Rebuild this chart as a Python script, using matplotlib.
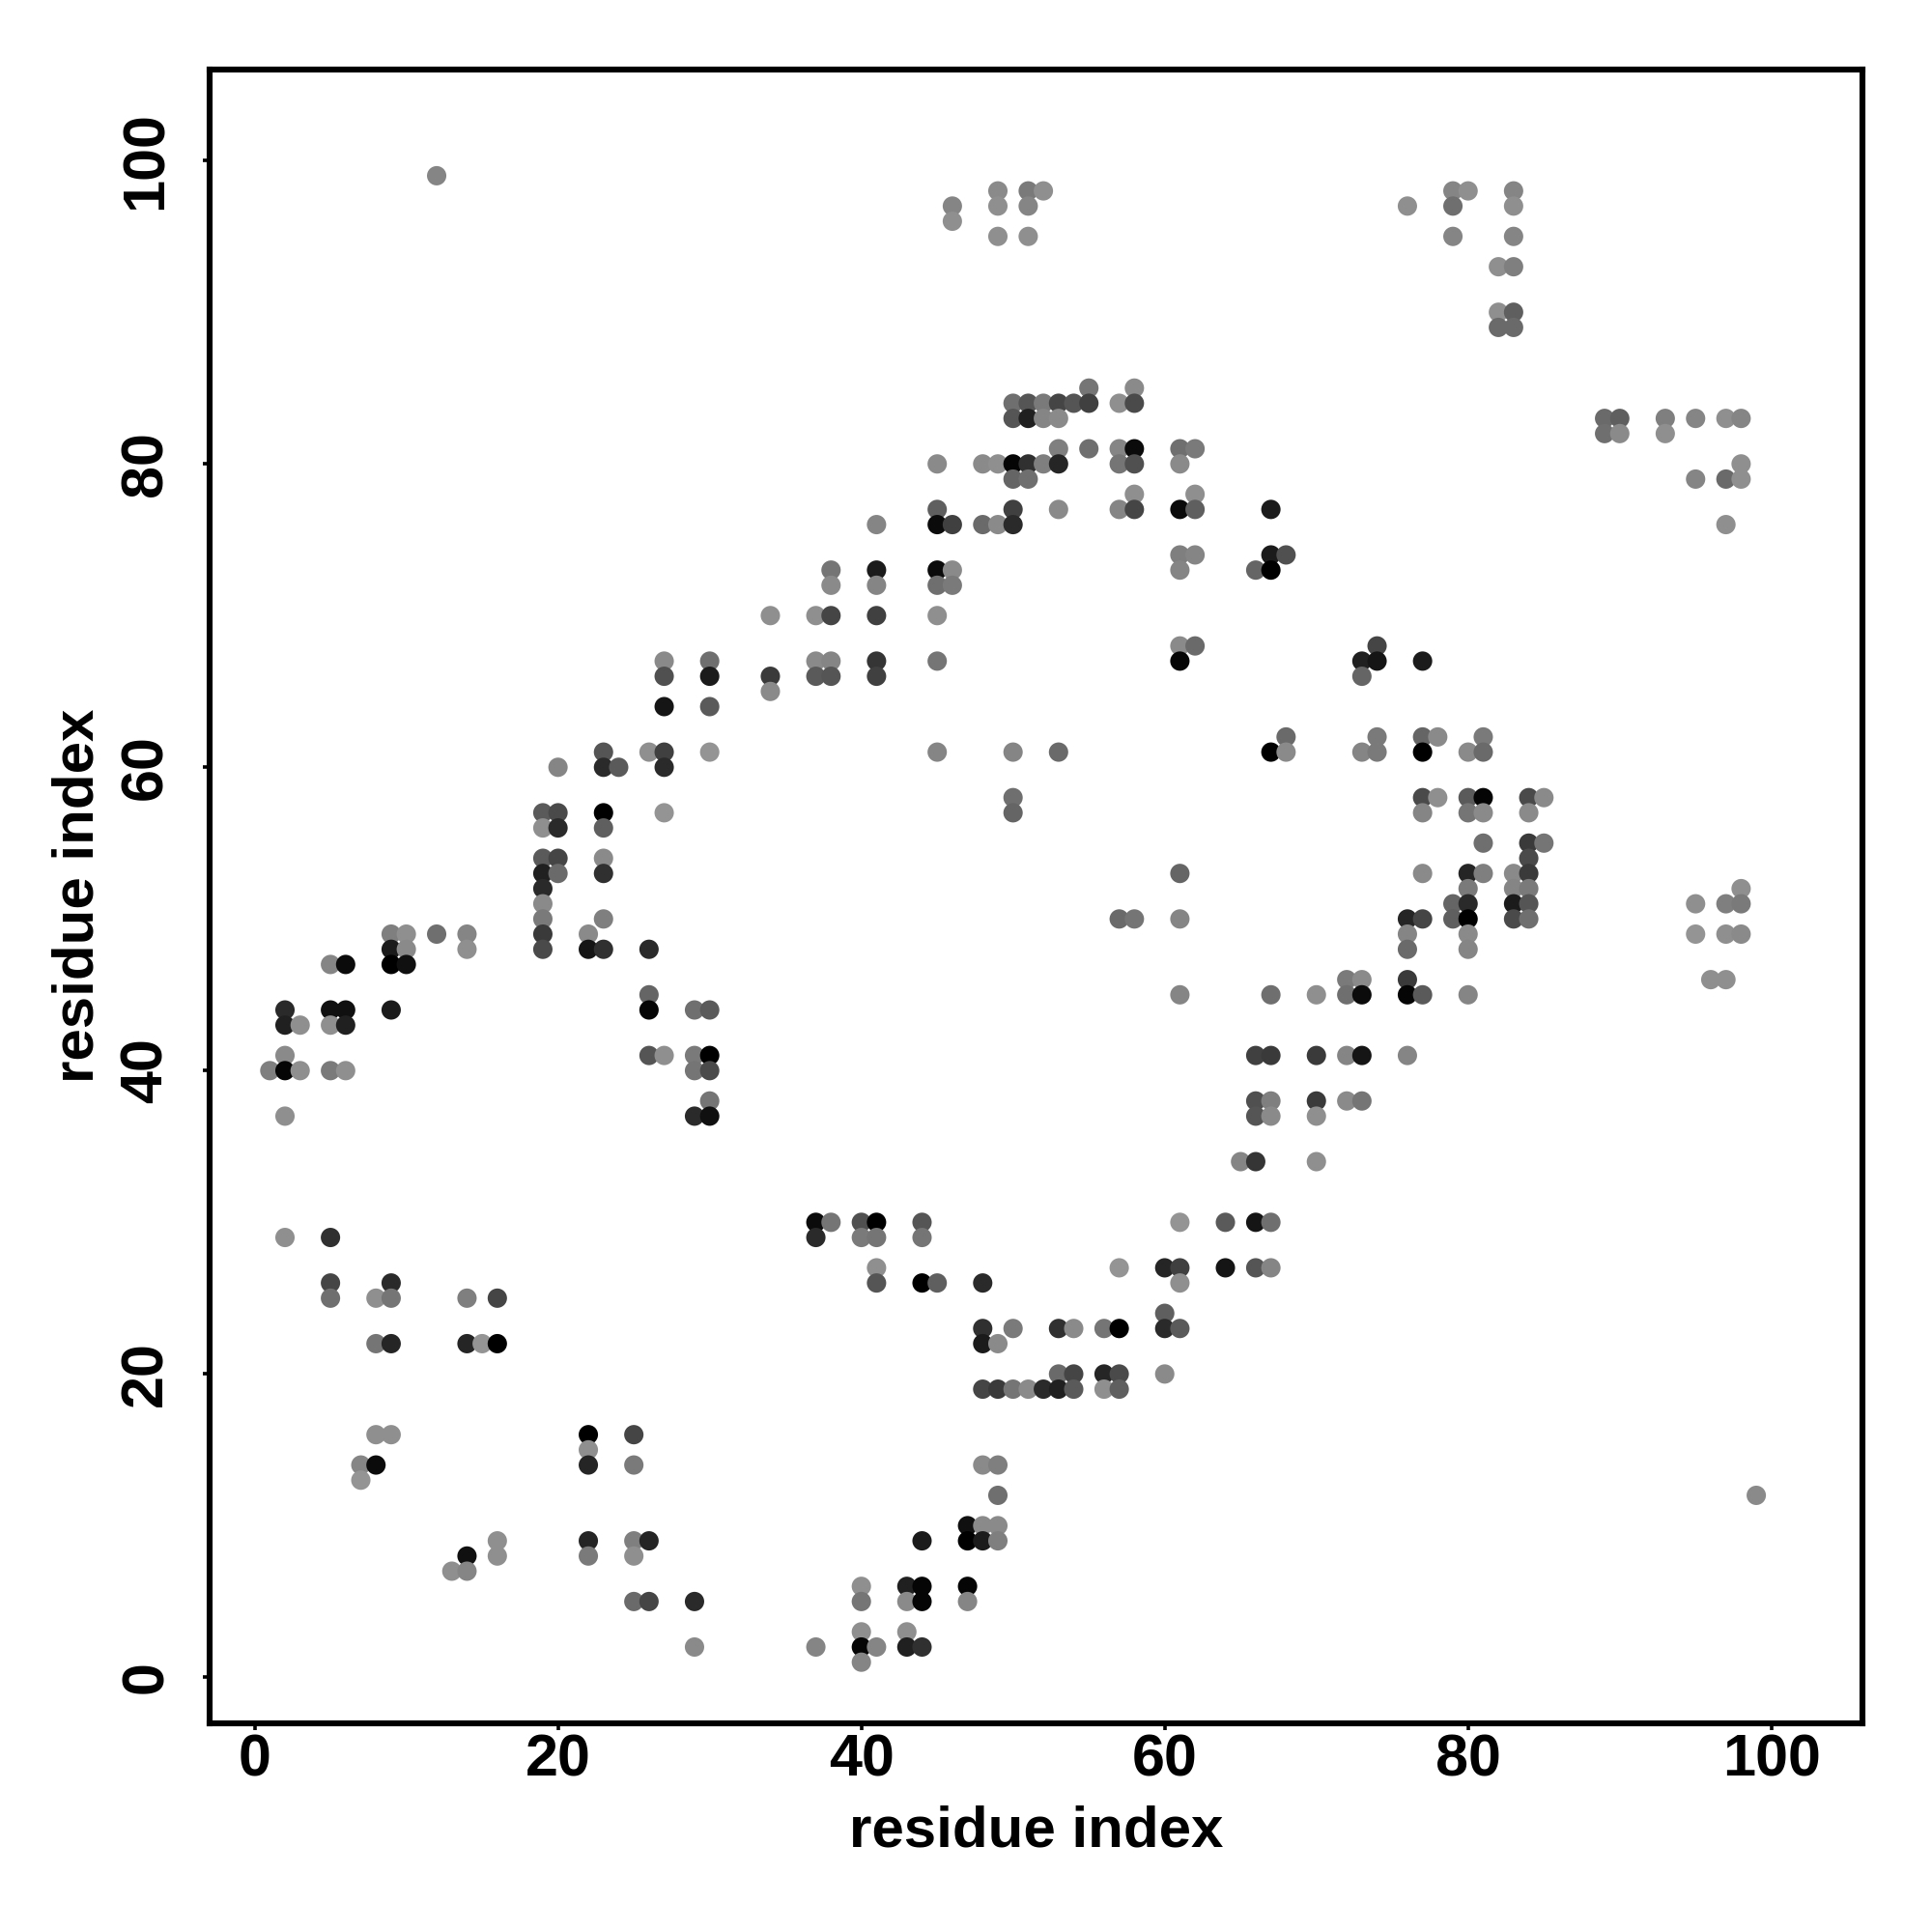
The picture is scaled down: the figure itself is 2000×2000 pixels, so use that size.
import matplotlib
matplotlib.use("Agg")
import matplotlib.pyplot as plt

plt.rcParams['font.family'] = ['Liberation Sans', 'DejaVu Sans']

# residue pairs, one line per y value, gray is the 0-255 level of the dot
res_x = [
    12,
    49, 51, 52, 79, 80, 83,
    46, 49, 51, 76, 79, 83,
    46,
    49, 51, 79, 83,
    82, 83,
    82, 83,
    82, 83,
    55, 58,
    50, 51, 52, 53, 54, 55, 57, 58,
    50, 51, 52, 53, 89, 90, 93, 95, 97, 98,
    89, 90, 93,
    53, 55, 57, 58, 61, 62,
    45, 48, 49, 50, 51, 52, 53, 57, 58, 61, 98,
    50, 51, 95, 97, 98,
    58, 62,
    45, 50, 53, 57, 58, 61, 62, 67,
    41, 45, 46, 48, 49, 50, 97,
    61, 62, 67, 68,
    38, 41, 45, 46, 61, 66, 67,
    38, 41, 45, 46,
    34, 37, 38, 41, 45,
    61, 62, 74,
    27, 30, 37, 38, 41, 45, 61, 73, 74, 77,
    27, 30, 34, 37, 38, 41, 73,
    34,
    27, 30,
    68, 74, 77, 78, 81,
    23, 26, 27, 30, 45, 50, 53, 67, 68, 73, 74, 77, 80, 81,
    20, 23, 24, 27,
    50, 77, 78, 80, 81, 84, 85,
    19, 20, 23, 27, 50, 77, 80, 81, 84,
    19, 20, 23,
    81, 84, 85,
    19, 20, 23, 84,
    19, 20, 23, 61, 77, 80, 81, 83, 84,
    19, 80, 83, 84, 98,
    19, 79, 80, 83, 84, 95, 97, 98,
    19, 23, 57, 58, 61, 76, 77, 79, 80, 83, 84,
    9, 10, 12, 14, 19, 22, 76, 80, 95, 97, 98,
    9, 10, 14, 19, 22, 23, 26, 76, 80,
    5, 6, 9, 10,
    72, 73, 76, 96, 97,
    26, 61, 67, 70, 72, 73, 76, 77, 80,
    2, 5, 6, 9, 26, 29, 30,
    2, 3, 5, 6,
    2, 26, 27, 29, 30, 66, 67, 70, 72, 73, 76,
    1, 2, 3, 5, 6, 29, 30,
    30, 66, 67, 70, 72, 73,
    2, 29, 30, 66, 67, 70,
    65, 66, 70,
    37, 38, 40, 41, 44, 61, 64, 66, 67,
    2, 5, 37, 40, 41, 44,
    41, 57, 60, 61, 64, 66, 67,
    5, 9, 41, 44, 45, 48, 61,
    5, 8, 9, 14, 16,
    60,
    48, 50, 53, 54, 56, 57, 60, 61,
    8, 9, 14, 15, 16, 48, 49,
    53, 54, 56, 57, 60,
    48, 49, 50, 51, 52, 53, 54, 56, 57,
    8, 9, 22, 25,
    22,
    7, 8, 22, 25, 48, 49,
    7,
    49, 99,
    47, 48, 49,
    16, 22, 25, 26, 44, 47, 48, 49,
    14, 16, 22, 25,
    13, 14,
    40, 43, 44, 47,
    25, 26, 29, 40, 43, 44, 47,
    40, 43,
    29, 37, 40, 41, 43, 44,
    40,
]
res_y = [
    99,
    98, 98, 98, 98, 98, 98,
    97, 97, 97, 97, 97, 97,
    96,
    95, 95, 95, 95,
    93, 93,
    90, 90,
    89, 89,
    85, 85,
    84, 84, 84, 84, 84, 84, 84, 84,
    83, 83, 83, 83, 83, 83, 83, 83, 83, 83,
    82, 82, 82,
    81, 81, 81, 81, 81, 81,
    80, 80, 80, 80, 80, 80, 80, 80, 80, 80, 80,
    79, 79, 79, 79, 79,
    78, 78,
    77, 77, 77, 77, 77, 77, 77, 77,
    76, 76, 76, 76, 76, 76, 76,
    74, 74, 74, 74,
    73, 73, 73, 73, 73, 73, 73,
    72, 72, 72, 72,
    70, 70, 70, 70, 70,
    68, 68, 68,
    67, 67, 67, 67, 67, 67, 67, 67, 67, 67,
    66, 66, 66, 66, 66, 66, 66,
    65,
    64, 64,
    62, 62, 62, 62, 62,
    61, 61, 61, 61, 61, 61, 61, 61, 61, 61, 61, 61, 61, 61,
    60, 60, 60, 60,
    58, 58, 58, 58, 58, 58, 58,
    57, 57, 57, 57, 57, 57, 57, 57, 57,
    56, 56, 56,
    55, 55, 55,
    54, 54, 54, 54,
    53, 53, 53, 53, 53, 53, 53, 53, 53,
    52, 52, 52, 52, 52,
    51, 51, 51, 51, 51, 51, 51, 51,
    50, 50, 50, 50, 50, 50, 50, 50, 50, 50, 50,
    49, 49, 49, 49, 49, 49, 49, 49, 49, 49, 49,
    48, 48, 48, 48, 48, 48, 48, 48, 48,
    47, 47, 47, 47,
    46, 46, 46, 46, 46,
    45, 45, 45, 45, 45, 45, 45, 45, 45,
    44, 44, 44, 44, 44, 44, 44,
    43, 43, 43, 43,
    41, 41, 41, 41, 41, 41, 41, 41, 41, 41, 41,
    40, 40, 40, 40, 40, 40, 40,
    38, 38, 38, 38, 38, 38,
    37, 37, 37, 37, 37, 37,
    34, 34, 34,
    30, 30, 30, 30, 30, 30, 30, 30, 30,
    29, 29, 29, 29, 29, 29,
    27, 27, 27, 27, 27, 27, 27,
    26, 26, 26, 26, 26, 26, 26,
    25, 25, 25, 25, 25,
    24,
    23, 23, 23, 23, 23, 23, 23, 23,
    22, 22, 22, 22, 22, 22, 22,
    20, 20, 20, 20, 20,
    19, 19, 19, 19, 19, 19, 19, 19, 19,
    16, 16, 16, 16,
    15,
    14, 14, 14, 14, 14, 14,
    13,
    12, 12,
    10, 10, 10,
    9, 9, 9, 9, 9, 9, 9, 9,
    8, 8, 8, 8,
    7, 7,
    6, 6, 6, 6,
    5, 5, 5, 5, 5, 5, 5,
    3, 3,
    2, 2, 2, 2, 2, 2,
    1,
]
res_gray = [
    125,
    130, 115, 135, 125, 135, 125,
    125, 135, 125, 135, 105, 135,
    135,
    135, 135, 125, 125,
    135, 120,
    135, 90,
    100, 100,
    110, 130,
    105, 80, 115, 65, 80, 60, 135, 70,
    80, 30, 125, 130, 100, 90, 120, 125, 135, 125,
    105, 130, 135,
    120, 105, 125, 10, 105, 115,
    130, 130, 135, 5, 45, 120, 35, 110, 75, 130, 135,
    95, 105, 125, 100, 135,
    135, 135,
    90, 60, 130, 125, 65, 10, 90, 25,
    125, 10, 60, 100, 130, 40, 135,
    120, 125, 25, 75,
    110, 25, 10, 130, 125, 95, 0,
    130, 125, 105, 115,
    135, 135, 65, 60, 135,
    130, 100, 65,
    130, 105, 130, 125, 50, 110, 5, 30, 20, 25,
    75, 25, 55, 85, 80, 60, 95,
    130,
    20, 85,
    100, 115, 95, 130, 115,
    80, 135, 60, 140, 125, 125, 100, 0, 130, 125, 115, 0, 130, 100,
    125, 40, 85, 40,
    105, 70, 135, 85, 5, 70, 130,
    85, 70, 0, 140, 95, 125, 110, 130, 130,
    135, 40, 90,
    105, 55, 110,
    85, 65, 130, 70,
    30, 100, 45, 95, 130, 35, 120, 130, 55,
    40, 115, 125, 115, 135,
    130, 95, 40, 25, 80, 135, 120, 115,
    115, 120, 100, 110, 125, 35, 65, 90, 0, 70, 105,
    120, 135, 105, 125, 55, 130, 125, 130, 140, 135, 130,
    25, 130, 135, 70, 20, 45, 40, 100, 125,
    125, 10, 0, 15,
    115, 130, 55, 135, 135,
    95, 125, 105, 135, 105, 10, 5, 85, 125,
    40, 15, 15, 25, 5, 105, 85,
    30, 135, 135, 30,
    130, 80, 135, 115, 0, 60, 55, 55, 125, 20, 125,
    120, 5, 135, 115, 135, 110, 70,
    110, 75, 120, 55, 130, 110,
    135, 40, 15, 80, 130, 135,
    125, 50, 135,
    10, 110, 75, 0, 80, 140, 85, 20, 105,
    135, 45, 40, 115, 110, 110,
    135, 140, 35, 60, 20, 80, 125,
    65, 40, 80, 0, 90, 40, 135,
    105, 135, 110, 120, 65,
    90,
    45, 115, 45, 130, 110, 0, 40, 85,
    110, 35, 35, 140, 0, 25, 130,
    100, 65, 35, 70, 130,
    65, 55, 110, 130, 40, 30, 85, 135, 90,
    135, 135, 0, 65,
    135,
    125, 10, 35, 115, 130, 120,
    140,
    105, 130,
    15, 130, 130,
    135, 35, 120, 35, 25, 0, 25, 120,
    15, 135, 115, 135,
    135, 125,
    135, 30, 5, 5,
    100, 65, 40, 110, 130, 5, 125,
    135, 135,
    130, 125, 5, 125, 30, 45,
    125,
]
x_ticks = [0, 20, 40, 60, 80, 100]
y_ticks = [0, 20, 40, 60, 80, 100]

fig = plt.figure(figsize=(10, 10), dpi=200)
ax = fig.add_axes([216.5 / 2000, 1 - 1783.5 / 2000, (1928 - 216.5) / 2000, (1783.5 - 72) / 2000])

# the dots in the picture are a bit lighter than what I read first
colors = [(g * 1.06 / 255, g * 1.06 / 255, g * 1.06 / 255) for g in res_gray]
ax.scatter(res_x, res_y, c=colors, s=52, linewidths=0, zorder=3)

ax.set_xlim(-3, 106)
ax.set_ylim(-3, 106)
ax.set_xticks(x_ticks)
ax.set_yticks(y_ticks)
ax.tick_params(axis='both', length=2.6, width=1.3, labelsize=22)
ax.tick_params(axis='x', pad=1.5)
ax.tick_params(axis='y', pad=10.3)
for lab in ax.get_xticklabels():
    lab.set_fontweight('bold')
for lab in ax.get_yticklabels():
    lab.set_fontweight('bold')
    lab.set_rotation(90)
    lab.set_verticalalignment('center')
for s in ax.spines.values():
    s.set_linewidth(2.2)

ax.set_xlabel('residue index', fontsize=21.6, fontweight='bold', labelpad=5.8)
ax.set_ylabel('residue index', fontsize=21.6, fontweight='bold', labelpad=5.4)

fig.savefig('out.png', dpi=200)
